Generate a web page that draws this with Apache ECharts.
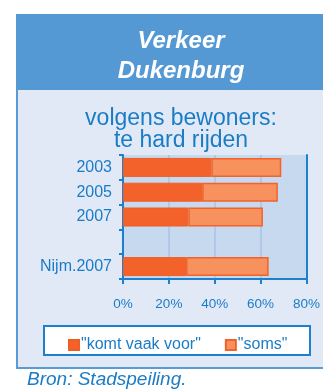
<!DOCTYPE html>
<html>
<head>
<meta charset="utf-8">
<script src="https://cdn.jsdelivr.net/npm/echarts@6/dist/echarts.min.js"></script>
<style>
  html, body { margin: 0; padding: 0; background: #ffffff; }
  #chart { width: 323px; height: 390px; }
</style>
</head>
<body>
<div id="chart"></div>
<script>
// Survey: share of residents saying speeding "happens often" / "sometimes"
const categories = ['2003', '2005', '2007', '', 'Nijm.2007'];
const komtVaakVoor = [38.5, 34.5, 28.5, null, 27.5];
const soms = [30.5, 33, 32.5, null, 36];
const xTicks = [0, 20, 40, 60, 80];

const blueText = '#1b7cc6';
const axisBlue = '#1d80cc';
const darkOrange = '#f2622a';
const lightOrange = '#f7925e';

const chart = echarts.init(document.getElementById('chart'), null, { renderer: 'canvas' });

chart.setOption({
  animation: false,
  backgroundColor: '#ffffff',
  textStyle: { fontFamily: 'Liberation Sans, Arial, sans-serif' },
  graphic: [
    // panel body
    { type: 'rect', z: -10, shape: { x: 16, y: 14, width: 320, height: 355 },
      style: { fill: '#e1e9f7' } },
    // left and bottom panel edges
    { type: 'rect', z: -9, shape: { x: 16, y: 14, width: 2, height: 355 },
      style: { fill: '#5b9bd5' } },
    { type: 'rect', z: -9, shape: { x: 16, y: 367, width: 320, height: 2 },
      style: { fill: '#5b9bd5' } },
    // header band
    { type: 'rect', z: -9, shape: { x: 16, y: 14, width: 320, height: 76 },
      style: { fill: '#5599d4' } },
    // legend frame
    { type: 'rect', z: -5, shape: { x: 44, y: 326, width: 266, height: 29 },
      style: { fill: '#ffffff', stroke: axisBlue, lineWidth: 2 } },
    // footnote
    { type: 'text', left: 27, top: 370,
      style: { text: 'Bron: Stadspeiling.', fill: blueText, fontSize: 19,
               fontStyle: 'italic', fontFamily: 'Liberation Sans, Arial, sans-serif' } }
  ],
  title: [
    { text: 'Verkeer\nDukenburg', left: 176, top: 21, textAlign: 'center',
      textStyle: { color: '#ffffff', fontSize: 24, fontWeight: 'bold', fontStyle: 'italic',
                   lineHeight: 30, fontFamily: 'Liberation Sans, Arial, sans-serif' } },
    { text: 'volgens bewoners:\nte hard rijden', left: 176, top: 103, textAlign: 'center',
      textStyle: { color: blueText, fontSize: 23, fontWeight: 'normal',
                   lineHeight: 22, fontFamily: 'Liberation Sans, Arial, sans-serif' } }
  ],
  legend: {
    left: 63, top: 332,
    itemWidth: 10, itemHeight: 10, itemGap: 24,
    icon: 'rect',
    textStyle: { color: blueText, fontSize: 16, padding: [0, 0, 0, -3] },
    data: ['"komt vaak voor"', '"soms"']
  },
  grid: {
    left: 123, right: 15, top: 155, height: 124,
    show: true, backgroundColor: '#c6d9ef', borderWidth: 0
  },
  xAxis: {
    type: 'value', min: 0, max: 80, interval: 20,
    axisLine: { show: true, lineStyle: { color: axisBlue, width: 2 } },
    axisTick: { show: true, length: 5, lineStyle: { color: axisBlue, width: 2 } },
    axisLabel: { color: blueText, fontSize: 13.5, margin: 18,
                 formatter: v => xTicks.includes(v) ? v + '%' : '' },
    splitLine: { show: true, lineStyle: { color: '#a9c3e6', width: 1.5 } }
  },
  yAxis: [
    {
      type: 'category', data: categories, inverse: true,
      axisLine: { show: true, lineStyle: { color: axisBlue, width: 2 } },
      axisTick: { show: true, length: 4, lineStyle: { color: axisBlue, width: 2 } },
      axisLabel: { color: blueText, fontSize: 16, margin: 11 }
    },
    {
      type: 'category', data: categories, inverse: true, position: 'right',
      axisLine: { show: true, lineStyle: { color: axisBlue, width: 2 } },
      axisTick: { show: false }, axisLabel: { show: false }
    }
  ],
  series: [
    {
      name: '"komt vaak voor"', type: 'bar', stack: 'total', barWidth: 19,
      data: komtVaakVoor,
      itemStyle: { color: darkOrange, borderColor: '#f05d25', borderWidth: 1 }
    },
    {
      name: '"soms"', type: 'bar', stack: 'total', barWidth: 19,
      data: soms,
      itemStyle: { color: lightOrange, borderColor: '#f2622a', borderWidth: 1.5 }
    }
  ]
});
</script>
</body>
</html>
